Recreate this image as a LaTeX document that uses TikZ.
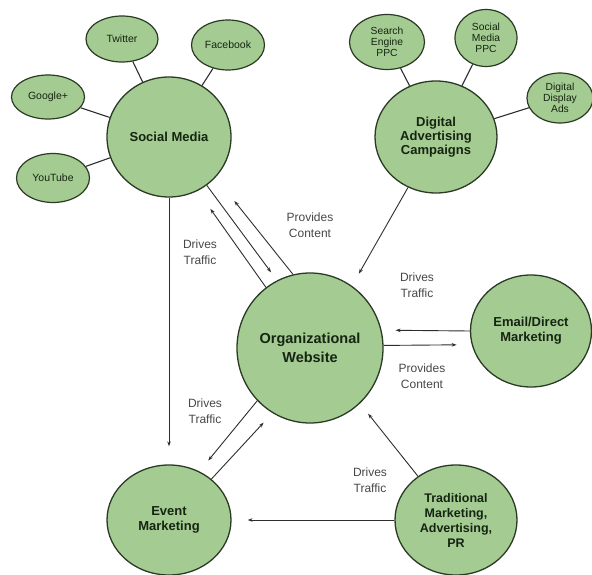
\documentclass[tikz,border=0pt]{standalone}
\usepackage{fontspec}
\setmainfont{Liberation Sans}
\usepackage{tikz}
\usetikzlibrary{positioning, calc, arrows.meta, shapes.geometric}
\definecolor{leaf}{RGB}{164,204,146}
\definecolor{rim}{RGB}{42,58,36}
\definecolor{ink}{RGB}{22,36,18}
\definecolor{wire}{RGB}{45,45,45}
\tikzset{
  hub/.style={ellipse, draw=rim, line width=1.3pt, fill=leaf, text=ink, align=center, inner sep=0pt,
    font=\bfseries\fontsize{13}{15}\selectfont},
  twig/.style={ellipse, draw=rim, line width=1.2pt, fill=leaf, text=ink, align=center, inner sep=0pt,
    font=\fontsize{10.3}{11}\selectfont},
  spoke/.style={draw=wire, line width=1.1pt},
  flow/.style={->, >={Stealth[length=5pt,width=3.5pt]}, draw=wire, line width=0.9pt},
  note/.style={align=center, text=black!72, font=\fontsize{12}{15.5}\selectfont}
}

\begin{document}
\begin{tikzpicture}[x=1pt, y=-1pt]

      \useasboundingbox (0,0) rectangle (592,575);

      % HUBS

      \node[hub, minimum width=146pt, minimum height=150pt, font=\bfseries\fontsize{14.5}{19}\selectfont] (web) at (310,348) {Organizational\\Website};
      \node[hub, minimum width=124pt, minimum height=120pt] (sm) at (169,137) {Social Media};
      \node[hub, minimum width=122pt, minimum height=112pt, font=\bfseries\fontsize{13}{14.2}\selectfont] (dig) at (436,137) {Digital\\Advertising\\Campaigns};
      \node[hub, minimum width=121pt, minimum height=112pt] (email) at (531,331) {Email/Direct\\Marketing};
      \node[hub, minimum width=124pt, minimum height=110pt] (event) at (169,520) {Event\\Marketing};
      \node[hub, minimum width=122pt, minimum height=110pt, font=\bfseries\fontsize{12.5}{15}\selectfont] (trad) at (456,520) {Traditional\\Marketing,\\Advertising,\\PR};

      % CHANNELS

      \node[twig, minimum width=72pt, minimum height=46pt, font=\fontsize{10.5}{12}\selectfont] (twitter) at (122,39) {Twitter};
      \node[twig, minimum width=73pt, minimum height=50pt, font=\fontsize{10.5}{12}\selectfont] (facebook) at (228,45) {Facebook};
      \node[twig, minimum width=73pt, minimum height=44pt, font=\fontsize{10.5}{12}\selectfont] (google) at (48,97) {Google+};
      \node[twig, minimum width=73pt, minimum height=49pt, font=\fontsize{10.5}{12}\selectfont] (youtube) at (53,178) {YouTube};
      \node[twig, minimum width=75pt, minimum height=55pt] (search) at (387,42) {Search\\Engine\\PPC};
      \node[twig, minimum width=62pt, minimum height=57pt] (smppc) at (486,38) {Social\\Media\\PPC};
      \node[twig, minimum width=66pt, minimum height=50pt] (display) at (560,98) {Digital\\Display\\Ads};

      % LABELS

      \node[note] (smLabel) at ($(web)+(-110,-96)$) {Drives\\Traffic};
      \node[note] (pcLabel) at ($(web)+(0,-123)$) {Provides\\Content};
      \node[note] (daLabel) at ($(web)+(107,-63)$) {Drives\\Traffic};
      \node[note] (emLabel) at ($(web)+(112,28)$) {Provides\\Content};
      \node[note] (evLabel) at ($(web)+(-105,63)$) {Drives\\Traffic};
      \node[note] (trLabel) at ($(web)+(60,132)$) {Drives\\Traffic};

      % SPOKES

      \draw (twitter) edge[spoke] (sm);
      \draw (facebook) edge[spoke] (sm);
      \draw (google) edge[spoke] (sm);
      \draw (youtube) edge[spoke] (sm);
      \draw (search) edge[spoke] (dig);
      \draw (smppc) edge[spoke] (dig);
      \draw (display) edge[spoke] (dig);

      % ARCS

      \draw (sm.-52) edge[flow, shorten >=10pt] (web.116);
      \draw (web.126) edge[flow, shorten >=22pt] (sm.-62);
      \draw (web.103) edge[flow, shorten >=30pt] (sm.-41);
      \draw (sm) edge[flow, shorten >=18pt] (event);

      \draw (dig.-119) edge[flow, shorten >=14pt] (web.56);
      \draw (email.180) edge[flow, shorten >=14pt] (web.14);
      \draw (web.2) edge[flow, shorten >=15pt] (email.193);

      \draw (web.-135) edge[flow, shorten >=14pt] (event.58);
      \draw (event.44) edge[flow, shorten >=13pt] (web.-120);
      \draw (trad.131) edge[flow, shorten >=13pt] (web.-48);
      \draw (trad) edge[flow, shorten >=16pt] (event);

    \end{tikzpicture}
\end{document}
